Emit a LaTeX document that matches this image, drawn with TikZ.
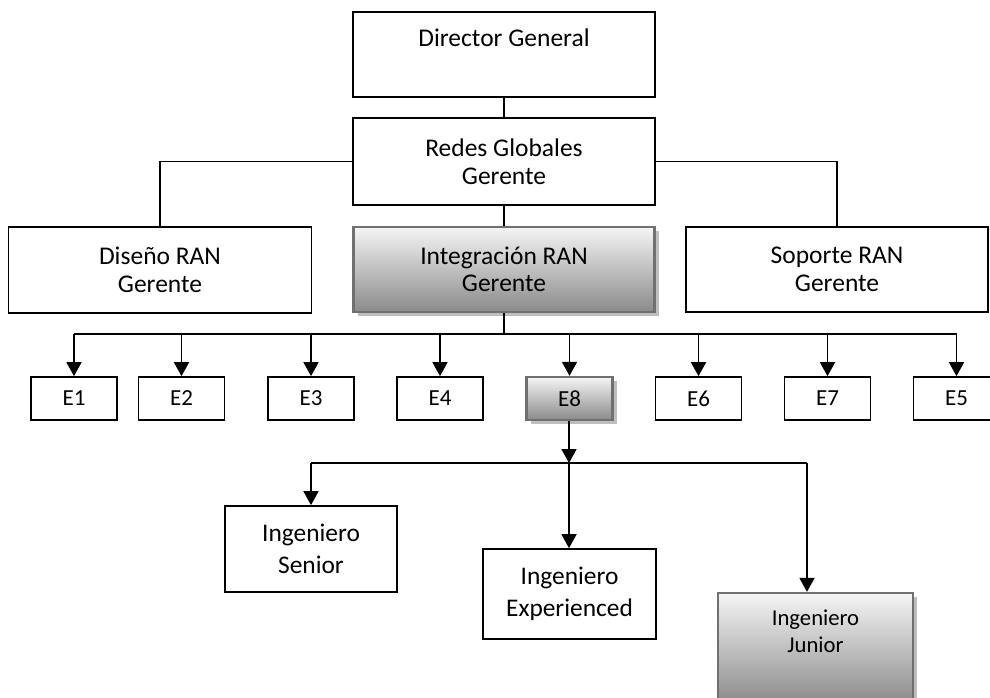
\documentclass[tikz,border=0pt]{standalone}
\usepackage{fontspec}
\setmainfont{Carlito}
\usetikzlibrary{arrows.meta,shadows}
\definecolor{edgegray}{RGB}{112,112,112}
\definecolor{shadowgray}{RGB}{190,190,190}
\begin{document}
\begin{tikzpicture}[x=1pt,y=-1pt,
  box/.style={draw=black, line width=1.7pt, rectangle, inner sep=0pt, align=center,
    font=\fontsize{25.5}{27.5}\selectfont},
  shadedbox/.style={box, draw=edgegray, line width=2.3pt,
    top color=black!4, bottom color=black!46,
    drop shadow={shadow xshift=4pt, shadow yshift=-4pt, fill=shadowgray, opacity=1}},
  ebox/.style={minimum width=86pt, minimum height=43pt, font=\fontsize{23}{27}\selectfont},
  engbox/.style={font=\fontsize{25.4}{32}\selectfont},
  link/.style={line width=1.6pt},
  arr/.style={link, -{Triangle[length=14pt,width=15pt]}}]

\useasboundingbox (0,0) rectangle (990,698);

% top of the hierarchy
\node[box, minimum width=302pt, minimum height=85pt, text height=17pt, text depth=32pt]
  (dir) at (504,54.5) {Director General};
\node[box, minimum width=302pt, minimum height=87pt] (redes) at (504,161.5) {Redes Globales\\Gerente};

% managers
\node[box, minimum width=303pt, minimum height=86pt] (diseno) at (160,270) {Diseño RAN\\Gerente};
\node[shadedbox, minimum width=301pt, minimum height=85pt] (integ) at (504,269.5) {Integración RAN\\Gerente};
\node[box, minimum width=302pt, minimum height=85pt] (soporte) at (837,269.5) {Soporte RAN\\Gerente};

% teams
\foreach \n/\x in {e1/74, e2/181.5, e3/311, e4/440, e6/698.5, e7/827.5, e5/956.5}
  \node[box, ebox] (\n) at (\x,398.5) {\MakeUppercase{\n}};
\node[shadedbox, ebox] (e8) at (569.5,398.5) {E8};

% engineers
\node[box, engbox, minimum width=172pt, minimum height=86pt] (senior) at (311,549) {Ingeniero\\Senior};
\node[box, engbox, minimum width=173pt, minimum height=90pt] (exp) at (569.5,594) {Ingeniero\\Experienced};
\node[shadedbox, minimum width=195pt, minimum height=112pt] (junior) at (815.5,649) {};
\node[anchor=north, align=center, inner sep=0pt, font=\fontsize{22.7}{27}\selectfont]
  (juniortext) at (815.5,610) {Ingeniero\\Junior};

% connectors
\draw[link] (dir.south) -- (redes.north);
\draw[link] (redes.west) -| (diseno.north);
\draw[link] (redes.east) -| (soporte.north);
\draw[link] (redes.south) -- (integ.north);

\coordinate (bus) at (504,334);
\draw[link] (integ.south) -- (bus);
\draw[link] (bus -| e1) -- (bus -| e5);
\foreach \n in {e1,e2,e3,e4,e8,e6,e7,e5}
  \draw[arr] (bus -| \n) -- (\n.north);

\coordinate (bus2) at (569,463);
\coordinate (jtop) at ([xshift=-8.5pt]junior.north);
\draw[arr] (e8.south -| bus2) -- (bus2);
\draw[link] (bus2 -| senior) -- (bus2 -| jtop);
\draw[arr] (bus2 -| senior) -- (senior.north);
\draw[arr] (bus2) -- (exp.north -| bus2);
\draw[arr] (bus2 -| jtop) -- (jtop);
\end{tikzpicture}
\end{document}
